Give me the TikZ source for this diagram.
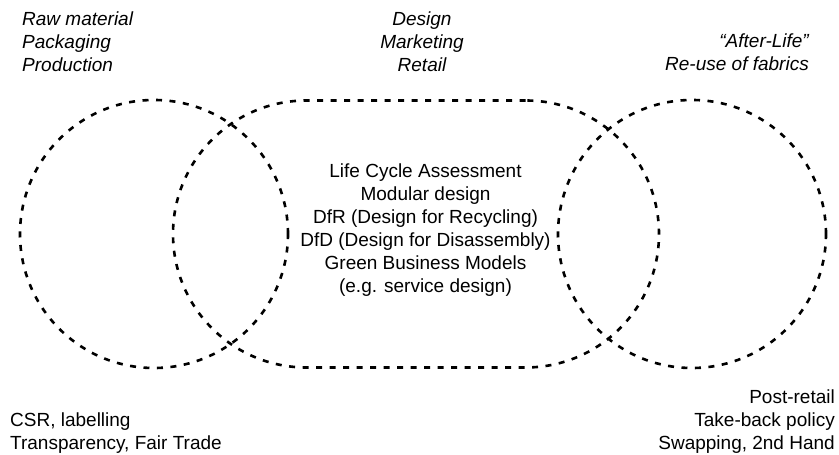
\documentclass[tikz,border=0pt]{standalone}
\usepackage{fontspec}
\setmainfont{Liberation Sans}
\begin{document}
\begin{tikzpicture}[x=1pt,y=1pt,
  zone/.style={draw=black, line width=2.6pt, dash pattern=on 6pt off 7.5pt, inner sep=0pt},
  label/.style={inner sep=0pt, font=\fontsize{19}{23}\selectfont},
  phase/.style={label, font=\fontsize{19}{23}\selectfont\itshape}]
\useasboundingbox (0,0) rectangle (839,455);

% three overlapping zones: production, use, after-life
\node[zone, circle, minimum size=268pt] (prod) at (154,221) {};
\node[zone, rectangle, minimum width=486pt, minimum height=267pt,
      rounded corners=133.5pt] (use) at (416,221) {};
\node[zone, circle, minimum size=268pt] (after) at (692,221) {};

% phase headings
\node[phase, anchor=north west, align=left] (hprod) at (22,443.7)
  {Raw material\\Packaging\\Production};
\node[phase, anchor=north, align=center] (huse) at (422,443.7)
  {Design\\Marketing\\Retail};
\node[phase, anchor=north east, align=right] (hafter) at (809,421.7)
  {“After-Life”\\Re-use of fabrics};

% strategies in the middle zone
\node[label, anchor=north, align=center] (core) at (425.5,291.9)
  {Life Cycle Assessment\\Modular design\\DfR (Design for Recycling)\\DfD (Design for Disassembly)\\Green Business Models\\(e.g. service design)};

% measures below the zones
\node[label, anchor=north west, align=left] (mprod) at (10,42.7)
  {CSR, labelling\\Transparency, Fair Trade};
\node[label, anchor=north east, align=right] (mafter) at (835,65.7)
  {Post-retail\\Take-back policy\\Swapping, 2nd Hand};
\end{tikzpicture}
\end{document}
